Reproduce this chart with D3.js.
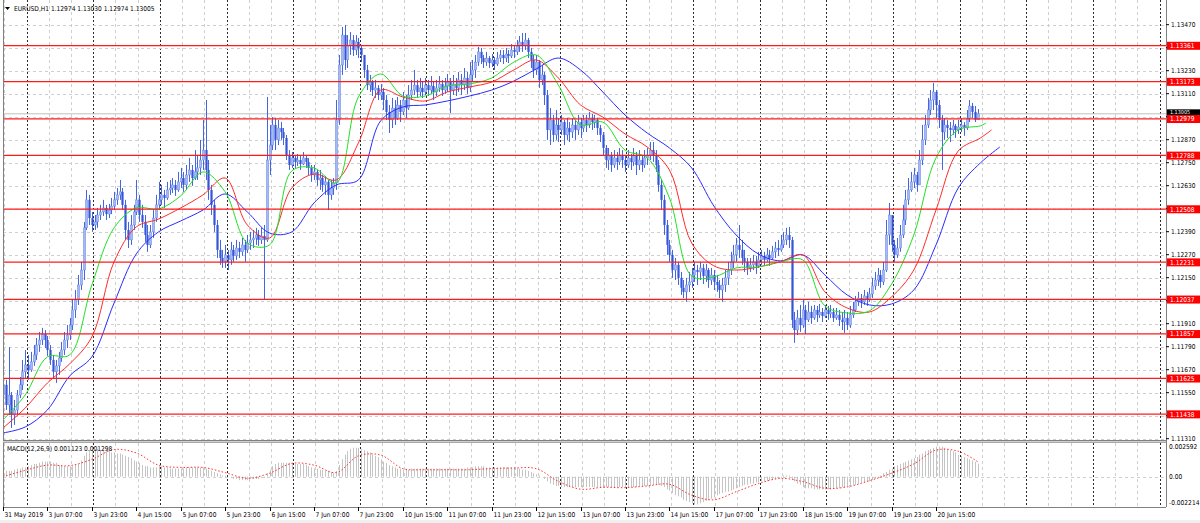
<!DOCTYPE html>
<html><head><meta charset="utf-8">
<script src="https://cdn.jsdelivr.net/npm/d3@7"></script>
<style>
html,body{margin:0;padding:0;background:#fff;overflow:hidden;}
svg{display:block;font-family:"DejaVu Sans Condensed","Liberation Sans",Arial,sans-serif;}
</style></head><body>
<svg id="c" width="1200" height="523"></svg>
<script>
// ---------- texts / categories ----------
const symbolTitle = "EURUSD,H1  1.12974 1.13030 1.12974 1.13005";
const macdTitle = "MACD(12,26,9) 0.001123 0.001298";
const timeLabels = ["31 May 2019","3 Jun 07:00","3 Jun 23:00","4 Jun 15:00","5 Jun 07:00","5 Jun 23:00","6 Jun 15:00","7 Jun 07:00","7 Jun 23:00","10 Jun 15:00","11 Jun 07:00","11 Jun 23:00","12 Jun 15:00","13 Jun 07:00","13 Jun 23:00","14 Jun 15:00","17 Jun 07:00","17 Jun 23:00","18 Jun 15:00","19 Jun 07:00","19 Jun 23:00","20 Jun 15:00"];
const timeLabelBars = [0,16,32,48,64,80,96,112,128,144,160,176,192,208,224,240,256,272,288,304,320,336];
const priceTicks = [1.1347,1.1335,1.1323,1.1311,1.1299,1.1287,1.1275,1.1263,1.1251,1.1239,1.1227,1.1215,1.1203,1.1191,1.1179,1.1167,1.1155,1.1143,1.1131];
const levels = [1.13361,1.13173,1.12979,1.12788,1.12508,1.12231,1.12037,1.11857,1.11625,1.11438];
const bidPrice = 1.13005;
const macdTicks = [0.002592,0,-0.002214];
const macdTickLabels = ["0.002592","0.00","-0.002214"];

// ---------- H1 candles ----------
const open = [1.11538,1.11591,1.11486,1.11538,1.11434,1.11460,1.11538,1.11591,1.11659,1.11695,
1.11669,1.11711,1.11747,1.11799,1.11825,1.11856,1.11825,1.11773,1.11721,1.11659,
1.11690,1.11731,1.11773,1.11825,1.11851,1.11903,1.11982,1.12034,1.12112,1.12190,
1.12410,1.12556,1.12461,1.12425,1.12441,1.12477,1.12493,1.12514,1.12482,1.12503,
1.12524,1.12556,1.12582,1.12598,1.12530,1.12399,1.12347,1.12425,1.12493,1.12556,
1.12477,1.12441,1.12373,1.12321,1.12389,1.12461,1.12530,1.12556,1.12582,1.12566,
1.12608,1.12618,1.12634,1.12608,1.12650,1.12670,1.12634,1.12686,1.12712,1.12670,
1.12702,1.12723,1.12764,1.12816,1.12712,1.12608,1.12530,1.12425,1.12295,1.12253,
1.12233,1.12269,1.12243,1.12295,1.12264,1.12305,1.12285,1.12321,1.12295,1.12331,
1.12347,1.12357,1.12373,1.12347,1.12368,1.12347,1.12764,1.12842,1.12947,1.12869,
1.12931,1.12910,1.12879,1.12790,1.12738,1.12775,1.12754,1.12764,1.12743,1.12775,
1.12754,1.12723,1.12686,1.12702,1.12660,1.12670,1.12634,1.12650,1.12582,1.12618,
1.12644,1.12973,1.13260,1.13416,1.13286,1.13364,1.13390,1.13338,1.13380,1.13349,
1.13312,1.13234,1.13155,1.13171,1.13129,1.13140,1.13103,1.13119,1.13077,1.13015,
1.12973,1.13035,1.12983,1.13051,1.13015,1.13077,1.13035,1.13103,1.13129,1.13155,
1.13119,1.13140,1.13119,1.13155,1.13129,1.13150,1.13119,1.13140,1.13161,1.13129,
1.13150,1.13171,1.13129,1.13161,1.13140,1.13182,1.13155,1.13192,1.13140,1.13208,
1.13234,1.13275,1.13328,1.13296,1.13275,1.13296,1.13270,1.13286,1.13265,1.13296,
1.13312,1.13296,1.13317,1.13307,1.13338,1.13328,1.13359,1.13380,1.13364,1.13390,
1.13328,1.13286,1.13234,1.13275,1.13182,1.13208,1.13103,1.12921,1.12973,1.12895,
1.12947,1.12921,1.12962,1.12895,1.12931,1.12910,1.12947,1.12921,1.12962,1.12931,
1.12973,1.12947,1.12983,1.12962,1.12973,1.12931,1.12895,1.12827,1.12764,1.12790,
1.12738,1.12775,1.12754,1.12790,1.12764,1.12738,1.12775,1.12754,1.12785,1.12738,
1.12764,1.12738,1.12775,1.12790,1.12816,1.12790,1.12738,1.12634,1.12556,1.12425,
1.12321,1.12269,1.12190,1.12217,1.12149,1.12097,1.12076,1.12112,1.12128,1.12164,
1.12190,1.12180,1.12201,1.12159,1.12190,1.12138,1.12164,1.12128,1.12112,1.12086,
1.12112,1.12149,1.12190,1.12233,1.12269,1.12321,1.12295,1.12253,1.12233,1.12201,
1.12217,1.12233,1.12212,1.12243,1.12264,1.12243,1.12269,1.12253,1.12285,1.12305,
1.12295,1.12321,1.12347,1.12373,1.12347,1.11930,1.11877,1.11940,1.11903,1.11982,
1.11930,1.11971,1.11940,1.11982,1.11956,1.11971,1.11950,1.11982,1.11961,1.11971,
1.11940,1.11956,1.11930,1.11919,1.11940,1.11903,1.11956,1.11982,1.12024,1.12044,
1.12024,1.12055,1.12034,1.12065,1.12107,1.12138,1.12164,1.12128,1.12190,1.12373,
1.12477,1.12321,1.12269,1.12305,1.12373,1.12451,1.12556,1.12608,1.12650,1.12686,
1.12634,1.12764,1.12869,1.12947,1.13025,1.13077,1.13119,1.13051,1.12973,1.12910,
1.12947,1.12931,1.12921,1.12942,1.12921,1.12936,1.12947,1.12931,1.12983,1.13046,
1.13015,1.12974];
const high = [1.11643,1.11617,1.11788,1.11554,1.11512,1.11564,1.11632,1.11721,1.11773,1.11747,
1.11763,1.11799,1.11835,1.11867,1.11888,1.11877,1.11846,1.11799,1.11747,1.11721,
1.11763,1.11815,1.11867,1.11903,1.11940,1.12034,1.12086,1.12164,1.12233,1.12441,
1.12608,1.12582,1.12493,1.12477,1.12514,1.12530,1.12556,1.12530,1.12535,1.12566,
1.12598,1.12618,1.12660,1.12618,1.12556,1.12441,1.12477,1.12530,1.12660,1.12582,
1.12530,1.12477,1.12425,1.12425,1.12503,1.12582,1.12650,1.12634,1.12608,1.12650,
1.12660,1.12670,1.12660,1.12702,1.12723,1.12702,1.12738,1.12775,1.12738,1.12816,
1.12790,1.12869,1.12973,1.13077,1.12764,1.12634,1.12556,1.12451,1.12347,1.12295,
1.12321,1.12295,1.12337,1.12321,1.12347,1.12337,1.12357,1.12347,1.12373,1.12389,
1.12399,1.12410,1.12399,1.12410,1.12425,1.13093,1.12947,1.12988,1.12983,1.12973,
1.12962,1.12931,1.12895,1.12816,1.12806,1.12790,1.12795,1.12785,1.12806,1.12790,
1.12775,1.12738,1.12738,1.12712,1.12712,1.12686,1.12681,1.12660,1.12660,1.12670,
1.13077,1.13312,1.13458,1.13469,1.13416,1.13432,1.13416,1.13416,1.13401,1.13364,
1.13312,1.13260,1.13208,1.13182,1.13182,1.13155,1.13161,1.13140,1.13103,1.13051,
1.13088,1.13077,1.13093,1.13077,1.13119,1.13103,1.13155,1.13182,1.13234,1.13182,
1.13192,1.13171,1.13192,1.13182,1.13202,1.13171,1.13182,1.13202,1.13182,1.13192,
1.13213,1.13192,1.13208,1.13192,1.13223,1.13213,1.13244,1.13223,1.13275,1.13286,
1.13312,1.13354,1.13349,1.13312,1.13328,1.13307,1.13317,1.13301,1.13328,1.13338,
1.13338,1.13349,1.13338,1.13369,1.13364,1.13390,1.13411,1.13427,1.13427,1.13401,
1.13349,1.13312,1.13312,1.13286,1.13260,1.13223,1.13129,1.13035,1.12999,1.13025,
1.12983,1.12999,1.12973,1.12983,1.12962,1.12983,1.12973,1.12999,1.12983,1.12999,
1.12999,1.13015,1.13004,1.12999,1.12983,1.12947,1.12910,1.12842,1.12827,1.12806,
1.12816,1.12806,1.12827,1.12816,1.12790,1.12816,1.12795,1.12827,1.12806,1.12816,
1.12790,1.12816,1.12827,1.12858,1.12858,1.12816,1.12764,1.12660,1.12582,1.12451,
1.12347,1.12295,1.12253,1.12233,1.12180,1.12138,1.12149,1.12180,1.12201,1.12233,
1.12217,1.12233,1.12222,1.12222,1.12201,1.12201,1.12190,1.12164,1.12138,1.12149,
1.12190,1.12233,1.12285,1.12321,1.12357,1.12425,1.12347,1.12295,1.12253,1.12253,
1.12269,1.12264,1.12285,1.12295,1.12285,1.12305,1.12295,1.12316,1.12337,1.12347,
1.12373,1.12389,1.12410,1.12415,1.12363,1.11971,1.11982,1.12008,1.12034,1.12008,
1.12024,1.12003,1.12008,1.12003,1.12013,1.11992,1.12008,1.12003,1.12008,1.11992,
1.11992,1.11982,1.11971,1.11982,1.11971,1.12003,1.12024,1.12055,1.12076,1.12065,
1.12086,1.12076,1.12097,1.12149,1.12180,1.12201,1.12190,1.12233,1.12451,1.12540,
1.12477,1.12347,1.12357,1.12425,1.12530,1.12608,1.12670,1.12702,1.12723,1.12702,
1.12816,1.12947,1.12999,1.13088,1.13129,1.13166,1.13129,1.13077,1.12999,1.12983,
1.12973,1.12962,1.12973,1.12952,1.12973,1.12983,1.12962,1.13025,1.13077,1.13062,
1.13046,1.13030];
const low = [1.11512,1.11460,1.11434,1.11366,1.11382,1.11434,1.11522,1.11564,1.11627,1.11617,
1.11659,1.11690,1.11721,1.11763,1.11799,1.11783,1.11742,1.11695,1.11627,1.11601,
1.11643,1.11711,1.11747,1.11783,1.11825,1.11877,1.11940,1.12008,1.12086,1.12138,
1.12399,1.12425,1.12389,1.12399,1.12410,1.12451,1.12472,1.12451,1.12461,1.12482,
1.12503,1.12530,1.12556,1.12503,1.12347,1.12305,1.12321,1.12399,1.12477,1.12441,
1.12410,1.12337,1.12285,1.12305,1.12357,1.12441,1.12503,1.12530,1.12514,1.12556,
1.12582,1.12592,1.12577,1.12598,1.12618,1.12598,1.12608,1.12650,1.12629,1.12660,
1.12660,1.12686,1.12712,1.12660,1.12556,1.12477,1.12389,1.12253,1.12217,1.12201,
1.12201,1.12190,1.12217,1.12233,1.12243,1.12253,1.12264,1.12233,1.12279,1.12295,
1.12305,1.12321,1.12316,1.12326,1.12034,1.12337,1.12686,1.12816,1.12816,1.12842,
1.12869,1.12842,1.12764,1.12712,1.12723,1.12723,1.12733,1.12712,1.12738,1.12723,
1.12686,1.12650,1.12660,1.12629,1.12608,1.12598,1.12582,1.12503,1.12556,1.12582,
1.12608,1.12947,1.13208,1.13234,1.13244,1.13312,1.13307,1.13312,1.13296,1.13275,
1.13192,1.13129,1.13119,1.13098,1.13088,1.13077,1.13077,1.13025,1.12973,1.12905,
1.12931,1.12947,1.12973,1.12962,1.12999,1.12983,1.13025,1.13077,1.13103,1.13088,
1.13098,1.13088,1.13103,1.13098,1.13109,1.13077,1.13098,1.13119,1.13098,1.13109,
1.13119,1.13009,1.13103,1.13098,1.13119,1.13103,1.13129,1.13109,1.13119,1.13171,
1.13192,1.13255,1.13265,1.13244,1.13255,1.13244,1.13249,1.13234,1.13255,1.13275,
1.13265,1.13275,1.13270,1.13296,1.13296,1.13312,1.13328,1.13328,1.13338,1.13296,
1.13244,1.13192,1.13208,1.13140,1.13155,1.13051,1.12869,1.12842,1.12858,1.12869,
1.12858,1.12895,1.12842,1.12869,1.12858,1.12879,1.12869,1.12895,1.12879,1.12910,
1.12910,1.12931,1.12921,1.12931,1.12895,1.12858,1.12790,1.12723,1.12712,1.12702,
1.12723,1.12712,1.12738,1.12723,1.12702,1.12723,1.12712,1.12733,1.12686,1.12712,
1.12702,1.12723,1.12738,1.12764,1.12754,1.12702,1.12598,1.12503,1.12373,1.12269,
1.12233,1.12149,1.12138,1.12112,1.12060,1.12044,1.12024,1.12076,1.12097,1.12128,
1.12112,1.12138,1.12117,1.12128,1.12097,1.12112,1.12086,1.12076,1.12044,1.12024,
1.12076,1.12112,1.12164,1.12201,1.12233,1.12253,1.12217,1.12180,1.12164,1.12180,
1.12190,1.12170,1.12201,1.12217,1.12212,1.12233,1.12212,1.12243,1.12253,1.12264,
1.12285,1.12305,1.12321,1.12305,1.11888,1.11810,1.11851,1.11867,1.11888,1.11856,
1.11919,1.11909,1.11930,1.11919,1.11940,1.11919,1.11940,1.11930,1.11940,1.11919,
1.11930,1.11898,1.11877,1.11862,1.11877,1.11888,1.11940,1.11971,1.12003,1.11992,
1.12008,1.12003,1.12024,1.12044,1.12086,1.12107,1.12097,1.12112,1.12180,1.12321,
1.12285,1.12233,1.12253,1.12285,1.12357,1.12425,1.12530,1.12598,1.12618,1.12598,
1.12634,1.12738,1.12842,1.12931,1.12999,1.13025,1.12983,1.12931,1.12712,1.12869,
1.12879,1.12858,1.12895,1.12879,1.12900,1.12910,1.12890,1.12921,1.12962,1.12983,
1.12962,1.12974];
const close = [1.11591,1.11486,1.11538,1.11434,1.11460,1.11538,1.11591,1.11659,1.11695,1.11669,
1.11711,1.11747,1.11799,1.11825,1.11856,1.11825,1.11773,1.11721,1.11659,1.11690,
1.11731,1.11773,1.11825,1.11851,1.11903,1.11982,1.12034,1.12112,1.12190,1.12410,
1.12556,1.12461,1.12425,1.12441,1.12477,1.12493,1.12514,1.12482,1.12503,1.12524,
1.12556,1.12582,1.12598,1.12530,1.12399,1.12347,1.12425,1.12493,1.12556,1.12477,
1.12441,1.12373,1.12321,1.12389,1.12461,1.12530,1.12556,1.12582,1.12566,1.12608,
1.12618,1.12634,1.12608,1.12650,1.12670,1.12634,1.12686,1.12712,1.12670,1.12702,
1.12723,1.12764,1.12816,1.12712,1.12608,1.12530,1.12425,1.12295,1.12253,1.12233,
1.12269,1.12243,1.12295,1.12264,1.12305,1.12285,1.12321,1.12295,1.12331,1.12347,
1.12357,1.12373,1.12347,1.12368,1.12347,1.12764,1.12842,1.12947,1.12869,1.12931,
1.12910,1.12879,1.12790,1.12738,1.12775,1.12754,1.12764,1.12743,1.12775,1.12754,
1.12723,1.12686,1.12702,1.12660,1.12670,1.12634,1.12650,1.12582,1.12618,1.12644,
1.12973,1.13260,1.13416,1.13286,1.13364,1.13390,1.13338,1.13380,1.13349,1.13312,
1.13234,1.13155,1.13171,1.13129,1.13140,1.13103,1.13119,1.13077,1.13015,1.12973,
1.13035,1.12983,1.13051,1.13015,1.13077,1.13035,1.13103,1.13129,1.13155,1.13119,
1.13140,1.13119,1.13155,1.13129,1.13150,1.13119,1.13140,1.13161,1.13129,1.13150,
1.13171,1.13129,1.13161,1.13140,1.13182,1.13155,1.13192,1.13140,1.13208,1.13234,
1.13275,1.13328,1.13296,1.13275,1.13296,1.13270,1.13286,1.13265,1.13296,1.13312,
1.13296,1.13317,1.13307,1.13338,1.13328,1.13359,1.13380,1.13364,1.13390,1.13328,
1.13286,1.13234,1.13275,1.13182,1.13208,1.13103,1.12921,1.12973,1.12895,1.12947,
1.12921,1.12962,1.12895,1.12931,1.12910,1.12947,1.12921,1.12962,1.12931,1.12973,
1.12947,1.12983,1.12962,1.12973,1.12931,1.12895,1.12827,1.12764,1.12790,1.12738,
1.12775,1.12754,1.12790,1.12764,1.12738,1.12775,1.12754,1.12785,1.12738,1.12764,
1.12738,1.12775,1.12790,1.12816,1.12790,1.12738,1.12634,1.12556,1.12425,1.12321,
1.12269,1.12190,1.12217,1.12149,1.12097,1.12076,1.12112,1.12128,1.12164,1.12190,
1.12180,1.12201,1.12159,1.12190,1.12138,1.12164,1.12128,1.12112,1.12086,1.12112,
1.12149,1.12190,1.12233,1.12269,1.12321,1.12295,1.12253,1.12233,1.12201,1.12217,
1.12233,1.12212,1.12243,1.12264,1.12243,1.12269,1.12253,1.12285,1.12305,1.12295,
1.12321,1.12347,1.12373,1.12347,1.11930,1.11877,1.11940,1.11903,1.11982,1.11930,
1.11971,1.11940,1.11982,1.11956,1.11971,1.11950,1.11982,1.11961,1.11971,1.11940,
1.11956,1.11930,1.11919,1.11940,1.11903,1.11956,1.11982,1.12024,1.12044,1.12024,
1.12055,1.12034,1.12065,1.12107,1.12138,1.12164,1.12128,1.12190,1.12373,1.12477,
1.12321,1.12269,1.12305,1.12373,1.12451,1.12556,1.12608,1.12650,1.12686,1.12634,
1.12764,1.12869,1.12947,1.13025,1.13077,1.13119,1.13051,1.12973,1.12910,1.12947,
1.12931,1.12921,1.12942,1.12921,1.12936,1.12947,1.12931,1.12983,1.13046,1.13015,
1.12974,1.13005];

// ---------- Alligator lines (read every 8 bars; last point = shifted end) ----------
const maBars = [0,8,16,24,32,40,48,56,64,72,80,88,96,104,112,120,128,136,144,152,160,168,176,184,192,200,208,216,224,232,240,248,256,264,272,280,288,296,304,312,320,328,336,344,352];
const lipsEnd = 354, teethEnd = 356, jawEnd = 359;
const lips = [1.11408,1.11538,1.11737,1.11747,1.12112,1.12410,1.12514,1.12509,1.12577,1.12702,1.12598,1.12331,1.12321,1.12707,1.12723,1.12644,1.13093,1.13213,1.13098,1.13098,1.13150,1.13161,1.13192,1.13275,1.13312,1.13155,1.12947,1.12962,1.12816,1.12775,1.12566,1.12159,1.12154,1.12201,1.12206,1.12233,1.12243,1.12003,1.11966,1.11977,1.12117,1.12373,1.12775,1.12921,1.12942,1.12957];
const teeth = [1.11366,1.11470,1.11601,1.11700,1.11841,1.12233,1.12415,1.12456,1.12514,1.12582,1.12670,1.12425,1.12357,1.12618,1.12691,1.12660,1.12853,1.13129,1.13093,1.13072,1.13119,1.13145,1.13171,1.13234,1.13286,1.13192,1.13051,1.12988,1.12900,1.12832,1.12712,1.12331,1.12212,1.12190,1.12206,1.12233,1.12269,1.12076,1.11992,1.11971,1.12050,1.12190,1.12503,1.12811,1.12879,1.12921];
const jaw = [1.11340,1.11371,1.11460,1.11637,1.11737,1.12018,1.12274,1.12389,1.12446,1.12503,1.12587,1.12493,1.12383,1.12389,1.12540,1.12634,1.12660,1.12968,1.13041,1.13051,1.13072,1.13098,1.13129,1.13176,1.13239,1.13296,1.13234,1.13119,1.12999,1.12905,1.12827,1.12723,1.12524,1.12373,1.12274,1.12238,1.12269,1.12164,1.12060,1.12008,1.12013,1.12086,1.12321,1.12618,1.12749,1.12832];

// ---------- MACD ----------
const macdMain = [0.0004,0.0005,0.0005,0.0005,0.0006,0.0007,0.0007,0.0008,0.0008,0.0009,
0.0010,0.0011,0.0011,0.0012,0.0013,0.0013,0.0013,0.0013,0.0012,0.0012,
0.0010,0.0010,0.0009,0.0009,0.0009,0.0009,0.0010,0.0011,0.0014,0.0018,
0.0021,0.0023,0.0024,0.0024,0.0024,0.0023,0.0023,0.0022,0.0022,0.0021,
0.0021,0.0020,0.0020,0.0019,0.0018,0.0017,0.0016,0.0014,0.0013,0.0012,
0.0010,0.0009,0.0009,0.0008,0.0008,0.0008,0.0009,0.0009,0.0008,0.0008,
0.0007,0.0007,0.0007,0.0007,0.0007,0.0007,0.0008,0.0008,0.0008,0.0008,
0.0008,0.0008,0.0008,0.0007,0.0006,0.0005,0.0004,0.0003,0.0002,0.0001,
0.0001,0.0000,-0.0001,-0.0002,-0.0002,-0.0003,-0.0003,-0.0003,-0.0003,-0.0002,
-0.0002,-0.0002,-0.0002,-0.0001,-0.0001,0.0003,0.0006,0.0009,0.0011,0.0012,
0.0012,0.0012,0.0012,0.0012,0.0012,0.0011,0.0011,0.0011,0.0011,0.0010,
0.0009,0.0008,0.0007,0.0007,0.0006,0.0006,0.0005,0.0005,0.0004,0.0003,
0.0005,0.0010,0.0015,0.0019,0.0022,0.0024,0.0025,0.0025,0.0025,0.0024,
0.0023,0.0022,0.0021,0.0019,0.0018,0.0017,0.0015,0.0013,0.0012,0.0010,
0.0009,0.0008,0.0007,0.0007,0.0006,0.0006,0.0006,0.0007,0.0007,0.0007,
0.0007,0.0007,0.0007,0.0007,0.0007,0.0007,0.0007,0.0007,0.0007,0.0007,
0.0007,0.0007,0.0007,0.0007,0.0007,0.0007,0.0007,0.0008,0.0008,0.0008,
0.0009,0.0009,0.0009,0.0009,0.0008,0.0008,0.0008,0.0008,0.0008,0.0008,
0.0008,0.0008,0.0008,0.0008,0.0008,0.0007,0.0007,0.0006,0.0006,0.0005,
0.0004,0.0003,0.0002,0.0001,0.0000,-0.0002,-0.0004,-0.0006,-0.0007,-0.0008,
-0.0008,-0.0009,-0.0009,-0.0009,-0.0009,-0.0009,-0.0009,-0.0009,-0.0009,-0.0009,
-0.0009,-0.0009,-0.0009,-0.0009,-0.0009,-0.0009,-0.0009,-0.0009,-0.0009,-0.0009,
-0.0009,-0.0009,-0.0009,-0.0009,-0.0009,-0.0009,-0.0009,-0.0009,-0.0009,-0.0008,
-0.0008,-0.0008,-0.0008,-0.0008,-0.0007,-0.0007,-0.0007,-0.0008,-0.0009,-0.0011,
-0.0012,-0.0014,-0.0016,-0.0017,-0.0018,-0.0020,-0.0021,-0.0022,-0.0023,-0.0024,
-0.0024,-0.0023,-0.0022,-0.0021,-0.0020,-0.0019,-0.0018,-0.0016,-0.0015,-0.0014,
-0.0013,-0.0013,-0.0012,-0.0011,-0.0010,-0.0009,-0.0008,-0.0007,-0.0007,-0.0006,
-0.0006,-0.0005,-0.0005,-0.0004,-0.0004,-0.0004,-0.0003,-0.0003,-0.0002,-0.0001,
-0.0001,0.0001,0.0001,0.0001,-0.0002,-0.0004,-0.0006,-0.0007,-0.0009,-0.0010,
-0.0010,-0.0010,-0.0011,-0.0011,-0.0011,-0.0011,-0.0011,-0.0011,-0.0011,-0.0010,
-0.0010,-0.0010,-0.0009,-0.0009,-0.0008,-0.0008,-0.0007,-0.0007,-0.0006,-0.0005,
-0.0005,-0.0004,-0.0004,-0.0003,-0.0002,-0.0001,0.0001,0.0003,0.0004,0.0006,
0.0007,0.0009,0.0010,0.0011,0.0012,0.0013,0.0014,0.0015,0.0016,0.0017,
0.0019,0.0020,0.0022,0.0023,0.0024,0.0025,0.0026,0.0026,0.0026,0.0025,
0.0024,0.0023,0.0022,0.0021,0.0019,0.0018,0.0017,0.0016,0.0015,0.0014,
0.0013,0.001123];
const signalBars = [0,8,16,24,32,40,48,56,64,72,80,88,96,104,112,120,128,136,144,152,160,168,176,184,192,200,208,216,224,232,240,248,256,264,272,280,288,296,304,312,320,328,336,344,351];
const macdSignal = [0,0.00055,0.001,0.00095,0.0015,0.00235,0.00205,0.001,0.0008,0.0008,0.00035,-0.00014,0.0003,0.00115,0.001,0.00035,0.0018,0.00187,0.0007,0.0006,0.0006,0.0006,0.0007,0.00075,0.0007,-0.0004,-0.00108,-0.00092,-0.00095,-0.0008,-0.00065,-0.0016,-0.002,-0.0013,-0.0006,-0.00015,-0.00043,-0.001,-0.00088,-0.00035,0.0003,0.0011,0.0023,0.0022,0.001298];

// ---------- drawing ----------
const svg = d3.select("#c");
const L = 3, R = 1166, mainTop = 0, mainBot = 440, macdTop = 443, macdBot = 507;
const FS = 6.6;
const x = d3.scaleLinear().domain([0, 336]).range([3, 936]);
const y = d3.scaleLinear().domain([1.1347, 1.1131]).range([24.7, 438.7]);
const ym = d3.scaleLinear().domain([0.002592, -0.002214]).range([446.7, 502.3]);

const defs = svg.append("defs");
defs.append("clipPath").attr("id","cm").append("rect").attr("x",L).attr("y",mainTop).attr("width",R-L).attr("height",mainBot-mainTop);
defs.append("clipPath").attr("id","cd").append("rect").attr("x",L).attr("y",macdTop).attr("width",R-L).attr("height",macdBot-macdTop);

svg.append("rect").attr("x",0).attr("y",0).attr("width",1200).attr("height",523).attr("fill","#fff");
svg.append("rect").attr("x",0).attr("y",520).attr("width",1200).attr("height",3).attr("fill","#f0f0f0");

// grid
const grid = svg.append("g");
d3.range(0.5, 420, 8).forEach((b, k) => {
  const gx = Math.round(x(b)) + 0.5;
  if (gx <= L + 1 || gx >= R) return;
  const dark = (k % 3 === 1);
  [[mainTop, mainBot], [macdTop, macdBot]].forEach(([a, z]) => {
    grid.append("line").attr("x1",gx).attr("x2",gx).attr("y1",a).attr("y2",z)
      .attr("stroke", dark ? "#2a2a2a" : "#cfcfcf").attr("stroke-width",1)
      .attr("stroke-dasharray", dark ? "2,2" : "3,3");
  });
});
priceTicks.forEach(p => {
  const gy = Math.round(y(p)) + 0.5;
  grid.append("line").attr("x1",L).attr("x2",R).attr("y1",gy).attr("y2",gy)
    .attr("stroke","#cfcfcf").attr("stroke-dasharray","3,3");
});
grid.append("line").attr("x1",L).attr("x2",R).attr("y1",Math.round(ym(0))+0.5).attr("y2",Math.round(ym(0))+0.5)
  .attr("stroke","#cfcfcf").attr("stroke-dasharray","3,3");

// bid line
svg.append("line").attr("x1",L).attr("x2",R).attr("y1",y(bidPrice)).attr("y2",y(bidPrice))
  .attr("stroke","#c0c0c0").attr("stroke-width",1);

// candles
const gc = svg.append("g").attr("clip-path","url(#cm)");
close.forEach((c, i) => {
  const o = open[i], h = Math.max(high[i], o, c), l = Math.min(low[i], o, c);
  const cx = Math.round(x(i)) + 0.5;
  gc.append("line").attr("x1",cx).attr("x2",cx).attr("y1",y(h)).attr("y2",y(l))
    .attr("stroke","#4566e2").attr("stroke-width",1);
  const top = y(Math.max(o, c)), bot = y(Math.min(o, c));
  const bull = c >= o;
  gc.append("rect").attr("x",cx-1.1).attr("y",top).attr("width",2.2).attr("height",Math.max(1, bot-top))
    .attr("fill", bull ? "#a6baf2" : "#3555d9")
    .attr("stroke", bull ? "#6a86e8" : "none").attr("stroke-width",0.5);
});

// alligator
const lineGen = d3.line().x(d => x(d[0])).y(d => y(d[1])).curve(d3.curveCatmullRom.alpha(0.5));
function maPts(vals, endBar) { return maBars.concat([endBar]).map((b, k) => [b, vals[k]]); }
const gl = svg.append("g").attr("clip-path","url(#cm)").attr("fill","none").attr("stroke-width",1);
gl.append("path").attr("d", lineGen(maPts(jaw, jawEnd))).attr("stroke","#2b2bff");
gl.append("path").attr("d", lineGen(maPts(teeth, teethEnd))).attr("stroke","#ff2b2b");
gl.append("path").attr("d", lineGen(maPts(lips, lipsEnd))).attr("stroke","#22e022");

// level lines
levels.forEach(p => {
  svg.append("line").attr("x1",L).attr("x2",R).attr("y1",y(p)).attr("y2",y(p))
    .attr("stroke","#ff1a1a").attr("stroke-width",1.2);
});

// MACD
const gm = svg.append("g").attr("clip-path","url(#cd)");
macdMain.forEach((v, i) => {
  const cx = Math.round(x(i)) + 0.5;
  gm.append("line").attr("x1",cx).attr("x2",cx).attr("y1",ym(0)).attr("y2",ym(v))
    .attr("stroke","#c4c4c4").attr("stroke-width",1);
});
const sigGen = d3.line().x(d => x(d[0])).y(d => ym(d[1])).curve(d3.curveCatmullRom.alpha(0.5));
gm.append("path").attr("d", sigGen(signalBars.map((b, k) => [b, macdSignal[k]])))
  .attr("fill","none").attr("stroke","#ff3030").attr("stroke-width",1).attr("stroke-dasharray","1.5,2");

// frame
const fr = svg.append("g").attr("stroke","#808080").attr("stroke-width",1);
fr.append("line").attr("x1",L+0.5).attr("x2",L+0.5).attr("y1",0).attr("y2",macdBot);
fr.append("line").attr("x1",R+0.5).attr("x2",R+0.5).attr("y1",0).attr("y2",macdBot);
fr.append("line").attr("x1",L).attr("x2",R).attr("y1",mainBot+0.5).attr("y2",mainBot+0.5);
fr.append("line").attr("x1",L).attr("x2",R).attr("y1",macdTop-0.5).attr("y2",macdTop-0.5);
fr.append("line").attr("x1",L).attr("x2",R).attr("y1",macdBot+0.5).attr("y2",macdBot+0.5);
svg.append("rect").attr("x",L).attr("y",mainBot+1).attr("width",R-L).attr("height",1.5).attr("fill","#d0d0d0");

// price axis
const ax = svg.append("g").attr("font-size",FS).attr("fill","#000");
const labelYs = levels.map(p => y(p)).concat([y(bidPrice)]);
priceTicks.forEach(p => {
  const py = y(p);
  ax.append("line").attr("x1",R).attr("x2",R+3).attr("y1",py).attr("y2",py).attr("stroke","#000");
  if (labelYs.some(v => Math.abs(v - py) < 6.5)) return; // hidden behind a level label
  ax.append("text").attr("x",R+5).attr("y",py).attr("dy","0.35em").text(p.toFixed(5));
});
macdTicks.forEach((v, k) => {
  ax.append("text").attr("x",R+3).attr("y",ym(v)).attr("dy","0.35em").text(macdTickLabels[k]);
});
// bid label (mostly covered by the 1.12979 label, as in the source)
ax.append("rect").attr("x",R+1).attr("y",y(bidPrice)-4.5).attr("width",34).attr("height",8).attr("fill","#000");
ax.append("text").attr("x",R+4).attr("y",y(bidPrice)-2).attr("dy","0.35em").attr("font-size",5.4).attr("fill","#fff").text(bidPrice.toFixed(5));
// level labels
levels.forEach(p => {
  ax.append("rect").attr("x",R+1).attr("y",y(p)-3.8).attr("width",34).attr("height",8).attr("fill","#ff0000");
  ax.append("text").attr("x",R+4).attr("y",y(p)+0.3).attr("dy","0.35em").attr("fill","#fff").text(p.toFixed(5));
});

// time axis
const tx = svg.append("g").attr("font-size",FS).attr("fill","#000");
timeLabelBars.forEach((b, k) => {
  const px = Math.round(x(b)) + 0.5;
  tx.append("line").attr("x1",px).attr("x2",px).attr("y1",macdBot).attr("y2",macdBot+4).attr("stroke","#000");
  tx.append("text").attr("x",px+1).attr("y",517).text(timeLabels[k]);
});

// titles
svg.append("path").attr("d","M5,7 L10,7 L7.5,10 Z").attr("fill","#000");
svg.append("text").attr("x",14).attr("y",11).attr("font-size",FS).attr("fill","#000").text(symbolTitle);
svg.append("text").attr("x",7).attr("y",451).attr("font-size",FS).attr("fill","#000").text(macdTitle);
</script>
</body></html>
